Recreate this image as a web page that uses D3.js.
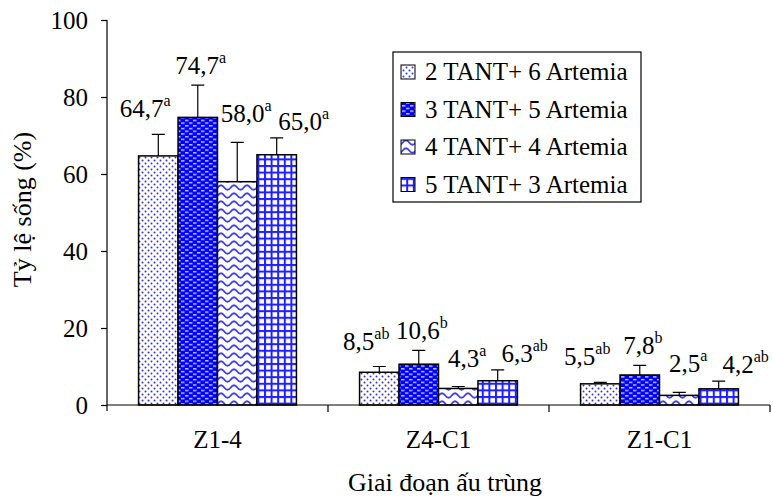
<!DOCTYPE html>
<html>
<head>
<meta charset="utf-8">
<script src="https://cdn.jsdelivr.net/npm/d3@7"></script>
</head>
<body style="margin:0">
<script>
// Data
var categories = ["Z1-4", "Z4-C1", "Z1-C1"];
var seriesNames = ["2 TANT+ 6 Artemia", "3 TANT+ 5 Artemia", "4 TANT+ 4 Artemia", "5 TANT+ 3 Artemia"];
var values = [
    [64.7, 8.5, 5.5],
    [74.7, 10.6, 7.8],
    [58.0, 4.3, 2.5],
    [65.0, 6.3, 4.2]
];
var errors = [
    [5.6, 1.5, 0.4],
    [8.4, 3.6, 2.5],
    [10.2, 0.5, 0.8],
    [4.4, 2.8, 2.0]
];
var letters = [
    ["a", "ab", "ab"],
    ["a", "b", "b"],
    ["a", "a", "a"],
    ["a", "ab", "ab"]
];
var yTicks = [0, 20, 40, 60, 80, 100];

// label nudges per series (Excel placed them by hand)
var labelDx = [-13, 3, 9, 27];
var labelGap = [17, 11, 20, 8];

var serif = '"Liberation Serif", "Times New Roman", serif';
var width = 773, height = 499;
var svg = d3.select('body').append('svg')
    .attr('width', width)
    .attr('height', height)
    .style('display', 'block')
    .style('font-family', serif);

var defs = svg.append('defs');

// pattern 0: small dots
var p0 = defs.append('pattern').attr('id', 'pat0').attr('patternUnits', 'userSpaceOnUse')
    .attr('width', 6).attr('height', 6);
p0.append('rect').attr('width', 6).attr('height', 6).attr('fill', '#fff');
p0.append('circle').attr('cx', 1.5).attr('cy', 1.5).attr('r', 1).attr('fill', '#3030ff');
p0.append('circle').attr('cx', 4.5).attr('cy', 4.5).attr('r', 1).attr('fill', '#3030ff');

// pattern 1: blue with white dashes
var p1 = defs.append('pattern').attr('id', 'pat1').attr('patternUnits', 'userSpaceOnUse')
    .attr('width', 8).attr('height', 5.4);
p1.append('rect').attr('width', 8).attr('height', 5.4).attr('fill', '#0000ff');
p1.append('rect').attr('x', 1).attr('y', 1).attr('width', 3.5).attr('height', 1.3).attr('fill', '#d8d8ff');
p1.append('rect').attr('x', 5).attr('y', 3.7).attr('width', 3).attr('height', 1.3).attr('fill', '#d8d8ff');
p1.append('rect').attr('x', 0).attr('y', 3.7).attr('width', 0.5).attr('height', 1.3).attr('fill', '#d8d8ff');

// pattern 2: wavy lines
var p2 = defs.append('pattern').attr('id', 'pat2').attr('patternUnits', 'userSpaceOnUse')
    .attr('width', 13).attr('height', 8);
p2.append('rect').attr('width', 13).attr('height', 8).attr('fill', '#fff');
p2.append('path')
    .attr('d', 'M-3.25,5 Q0,0.5 3.25,5 Q6.5,9.5 9.75,5 Q13,0.5 16.25,5')
    .attr('transform', 'translate(0,-1.5)')
    .attr('fill', 'none').attr('stroke', '#4040f0').attr('stroke-width', 1.8);

// pattern 3: grid
var p3 = defs.append('pattern').attr('id', 'pat3').attr('patternUnits', 'userSpaceOnUse')
    .attr('width', 6.6).attr('height', 6.6);
p3.append('rect').attr('width', 6.6).attr('height', 6.6).attr('fill', '#fff');
p3.append('rect').attr('x', 0).attr('y', 0).attr('width', 2).attr('height', 6.6).attr('fill', '#1f1fff');
p3.append('rect').attr('x', 0).attr('y', 0).attr('width', 6.6).attr('height', 2).attr('fill', '#1f1fff');

// Scales
var x = d3.scaleBand().domain(categories).range([107, 770]).padding(0);
var xs = d3.scaleBand().domain(d3.range(seriesNames.length))
    .range([0, x.bandwidth()]).paddingInner(0).paddingOuter(0.8);
var y = d3.scaleLinear().domain([0, 100]).range([405, 20]);

// Bars
seriesNames.forEach(function (name, s) {
    var g = svg.append('g');
    g.selectAll('rect')
        .data(categories)
        .enter()
        .append('rect')
        .attr('x', function (c) { return x(c) + xs(s); })
        .attr('y', function (c, i) { return y(values[s][i]); })
        .attr('width', xs.bandwidth())
        .attr('height', function (c, i) { return y(0) - y(values[s][i]); })
        .attr('fill', 'url(#pat' + s + ')')
        .attr('stroke', '#000')
        .attr('stroke-width', 1.5);

    // error bars (upper only)
    g.selectAll('.err')
        .data(categories)
        .enter()
        .append('path')
        .attr('class', 'err')
        .attr('fill', 'none')
        .attr('stroke', '#000')
        .attr('stroke-width', 1.2)
        .attr('d', function (c, i) {
            var cx = x(c) + xs(s) + xs.bandwidth() / 2;
            var top = y(values[s][i] + errors[s][i]);
            return 'M' + cx + ',' + y(values[s][i]) + 'V' + top + 'M' + (cx - 6.5) + ',' + top + 'H' + (cx + 6.5);
        });

    // value labels with superscript letters
    var lab = g.selectAll('.lab')
        .data(categories)
        .enter()
        .append('text')
        .attr('class', 'lab')
        .attr('x', function (c) { return x(c) + xs(s) + xs.bandwidth() / 2 + labelDx[s]; })
        .attr('y', function (c, i) { return y(values[s][i] + errors[s][i]) - labelGap[s]; })
        .attr('text-anchor', 'middle')
        .style('font-family', serif)
        .style('font-size', '25px');
    lab.append('tspan')
        .text(function (c, i) { return d3.format('.1f')(values[s][i]).replace('.', ','); });
    lab.append('tspan')
        .attr('dy', -11)
        .style('font-size', '16px')
        .text(function (c, i) { return letters[s][i]; });
});

// Y axis
svg.append('g')
    .attr('transform', 'translate(107,0)')
    .call(d3.axisLeft(y).tickValues(yTicks).tickSize(6).tickPadding(13))
    .call(function (g) {
        g.attr('font-family', null).attr('font-size', null);
        g.select('.domain').attr('d', 'M0,' + y(100) + 'V' + (y(0) + 6)).attr('stroke-width', 1.2);
        g.selectAll('.tick line').attr('stroke-width', 1.2);
        g.selectAll('text').style('font-size', '25px').style('font-family', serif);
    });

// X axis with ticks at the group boundaries
var xAxis = svg.append('g').attr('transform', 'translate(0,' + y(0) + ')');
xAxis.append('path')
    .attr('d', 'M107,0H' + x.range()[1])
    .attr('stroke', '#000').attr('stroke-width', 1.2);
xAxis.selectAll('.bt')
    .data(categories)
    .enter()
    .append('path')
    .attr('stroke', '#000').attr('stroke-width', 1.2)
    .attr('d', function (c) { return 'M' + (x(c) + x.bandwidth()) + ',0V7'; });
xAxis.selectAll('.cl')
    .data(categories)
    .enter()
    .append('text')
    .attr('x', function (c) { return x(c) + x.bandwidth() / 2; })
    .attr('y', 43)
    .attr('text-anchor', 'middle')
    .style('font-family', serif)
    .style('font-size', '25px')
    .text(function (c) { return c; });

// Axis titles
svg.append('text')
    .attr('transform', 'translate(31,' + (y(50) - 3) + ') rotate(-90)')
    .attr('text-anchor', 'middle')
    .style('font-family', serif)
    .style('font-size', '26px')
    .text('Tỷ lệ sống (%)');
svg.append('text')
    .attr('x', 445)
    .attr('y', 491)
    .attr('text-anchor', 'middle')
    .style('font-family', serif)
    .style('font-size', '26px')
    .text('Giai đoạn ấu trùng');

// Legend
var legend = svg.append('g').attr('transform', 'translate(393,52)');
legend.append('rect')
    .attr('width', 248).attr('height', 150)
    .attr('fill', '#fff').attr('stroke', '#000').attr('stroke-width', 1.2);
var item = legend.selectAll('.item')
    .data(seriesNames)
    .enter()
    .append('g')
    .attr('transform', function (d, i) { return 'translate(0,' + (20 + i * 37.5) + ')'; });
item.append('rect')
    .attr('x', 8).attr('y', -7).attr('width', 14).attr('height', 14)
    .attr('fill', function (d, i) { return 'url(#pat' + i + ')'; })
    .attr('stroke', '#000').attr('stroke-width', 1);
item.append('text')
    .attr('x', 32).attr('y', 8)
    .style('font-family', serif)
    .style('font-size', '25px')
    .text(function (d) { return d; });
</script>
</body>
</html>
